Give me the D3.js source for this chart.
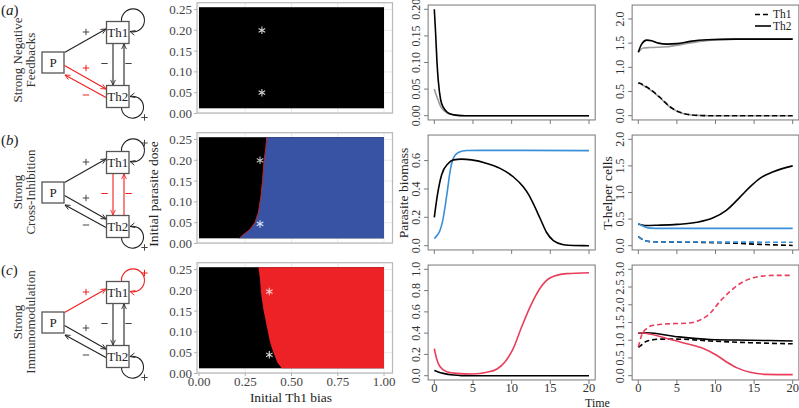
<!DOCTYPE html>
<html><head><meta charset="utf-8">
<script src="https://cdn.jsdelivr.net/npm/d3@7"></script>
<style>body{margin:0;background:#fff}text{font-family:"Liberation Serif","Times New Roman",Times,serif}</style>
</head><body><svg id="c" width="799" height="408"></svg>
<script>
// ---------------- DATA ----------------
const rowTags = ["a", "b", "c"];
const rowLabels = [["Strong Negative", "Feedbacks"], ["Strong", "Cross-Inhibition"], ["Strong", "Immunomodulation"]];
const heatXTicks = [0, 0.25, 0.5, 0.75, 1];
const heatYTicks = [0, 0.05, 0.1, 0.15, 0.2, 0.25];
const doseExtent = [0.0125, 0.2555];
const biasExtent = [0, 1];
// Th1-bias threshold [bias, dose] separating black (left) from coloured outcome (right)
const boundaryA = [];
const boundaryB = [[0.366,0.2555],[0.362,0.234],[0.351,0.195],[0.344,0.154],[0.335,0.114],[0.321,0.075],[0.303,0.051],[0.276,0.034],[0.231,0.018],[0.218,0.0125]];
const boundaryC = [[0.321,0.2555],[0.330,0.226],[0.335,0.194],[0.348,0.154],[0.366,0.114],[0.384,0.075],[0.402,0.051],[0.423,0.027],[0.447,0.0125]];
const starsA = [[0.34,0.2,"#d0d0d0"],[0.34,0.05,"#d0d0d0"]];
const starsB = [[0.33,0.2,"#bbbbbb"],[0.33,0.047,"#d8e0f4"]];
const starsC = [[0.38,0.197,"#f9c9c9"],[0.38,0.045,"#dddddd"]];

const tTicks = [0, 5, 10, 15, 20];
const paraYMax = [0.2, 0.75, 1.0];
const paraYTicks = [[0,0.05,0.1,0.15,0.2],[0,0.2,0.4,0.6],[0,0.2,0.4,0.6,0.8,1.0]];
const thYMax = [2.2, 2.0, 3.0];
const thYTicks = [[0,0.5,1,1.5,2],[0,0.5,1,1.5,2],[0,0.5,1,1.5,2,2.5,3]];

// parasite biomass [time, value]
const paraA_gray  = [[0,0.05],[0.25,0.039],[0.5,0.029],[0.8,0.018],[1.16,0.011],[1.6,0.006],[2,0.003],[3,0.0008],[4,0],[20,0]];
const paraA_black = [[0,0.2],[0.17,0.155],[0.35,0.1],[0.52,0.065],[0.82,0.03],[1.2,0.015],[1.6,0.0075],[2,0.0035],[2.7,0.001],[4,0],[20,0]];
const paraB_blue  = [[0,0.05],[0.4,0.075],[0.73,0.107],[1.1,0.18],[1.38,0.27],[1.7,0.39],[2,0.51],[2.46,0.617],[3.1,0.657],[4.2,0.671],[6,0.672],[20,0.67]];
const paraB_black = [[0,0.2],[0.4,0.356],[0.95,0.5],[1.8,0.58],[2.5,0.605],[3.5,0.61],[4.8,0.605],[6.8,0.58],[8.5,0.545],[10.2,0.486],[11.5,0.415],[12.2,0.36],[12.8,0.296],[13.7,0.19],[14.5,0.095],[15.4,0.036],[16.7,0.007],[18,0.001],[20,0]];
const paraC_red   = [[0,0.254],[0.3,0.16],[0.73,0.086],[1.6,0.038],[2.9,0.022],[5,0.016],[6.8,0.032],[8.1,0.063],[9.1,0.127],[10.2,0.254],[11.3,0.46],[12.4,0.65],[13.7,0.825],[15,0.92],[17.1,0.959],[20,0.968]];
const paraC_black = [[0,0.048],[0.5,0.035],[1.16,0.022],[2.5,0.006],[3.5,0.001],[5,0],[20,0]];

// T-helper cells [time, value]
const th2A_gray  = [[0,1.31],[0.65,1.40],[1.5,1.41],[3.7,1.425],[5.8,1.48],[8,1.536],[10.2,1.57],[13,1.584],[20,1.584]];
const th2A_black = [[0,1.31],[0.43,1.48],[1.08,1.563],[1.73,1.55],[2.6,1.50],[3.7,1.48],[5,1.49],[6.7,1.536],[8.9,1.57],[12.3,1.584],[20,1.584]];
const th1A_gray  = [[0,0.67],[0.7,0.62],[1.5,0.54],[2.8,0.37],[4.1,0.18],[5.4,0.066],[6.7,0.02],[8,0.005],[9,0],[20,0]];
const th1A_black = [[0,0.68],[0.7,0.63],[1.5,0.55],[2.8,0.38],[4.1,0.186],[5.4,0.069],[6.7,0.02],[8,0.005],[9,0],[20,0]];
const th2B_blue  = [[0,0.42],[0.65,0.367],[1.5,0.33],[3,0.325],[20,0.325]];
const th2B_black = [[0,0.41],[0.5,0.39],[1,0.38],[2.5,0.385],[5,0.40],[7.6,0.44],[9.7,0.525],[11.4,0.665],[13.2,0.918],[14.5,1.11],[15.8,1.27],[17.5,1.39],[20,1.5]];
const th1B_blue  = [[0,0.17],[0.65,0.107],[1.5,0.076],[3,0.07],[10,0.068],[20,0.065]];
const th1B_black = [[0,0.17],[0.65,0.107],[1.5,0.076],[3,0.07],[8,0.063],[12,0.05],[15.8,0.025],[20,0.005]];
const th1C_red   = [[0,0.81],[0.43,1.14],[1.08,1.33],[1.94,1.42],[3.7,1.46],[6.3,1.48],[8,1.57],[9.3,1.76],[10.6,2.10],[11.9,2.38],[13.2,2.6],[14.9,2.76],[17.5,2.83],[20,2.83]];
const th2C_red   = [[0,1.21],[1.08,1.19],[3.7,1.05],[6.3,0.9],[8.5,0.76],[10.2,0.57],[11.5,0.38],[12.8,0.22],[14.5,0.095],[16.6,0.038],[20,0.03]];
const th2C_black = [[0,1.2],[1.08,1.21],[5,1.1],[9.3,1.02],[14.5,1.0],[20,0.98]];
const th1C_black = [[0,0.8],[0.5,0.88],[1.08,0.97],[2.8,1.03],[5,1.03],[9.3,0.98],[14.5,0.93],[20,0.9]];

const legendLabels = ["Th1", "Th2"];

// ---------------- STYLE ----------------
const BLACK = "#000", GRAY = "#9a9a9a", BLUE = "#3a8fd8", PINK = "#e83e5c";
const HEAT_BLUE = "#3953a4", HEAT_RED = "#ec2227", RED = "#f21e1e";
const rowOff = [0, 130, 260];

const svg = d3.select("#c");
const defs = svg.append("defs");
[["k", "#222"], ["r", RED]].forEach(([id, col]) => {
  defs.append("marker").attr("id", "ah-" + id).attr("viewBox", "0 0 10 10")
    .attr("refX", 9.5).attr("refY", 5).attr("markerWidth", 6).attr("markerHeight", 6)
    .attr("markerUnits", "userSpaceOnUse").attr("orient", "auto")
    .append("path").attr("d", "M1,1 L9.5,5 L1,9").attr("fill", "none")
    .attr("stroke", col).attr("stroke-width", 1.4);
});

// ---------------- DIAGRAMS ----------------
const diagColors = [
  { pTh1: "k", pTh2: "r", th: "k", loop1: "k", loop2: "k", sign1: false },
  { pTh1: "k", pTh2: "k", th: "r", loop1: "k", loop2: "k", sign1: true },
  { pTh1: "r", pTh2: "k", th: "k", loop1: "r", loop2: "k", sign1: true }
];
const colOf = k => k === "r" ? RED : "#222";
const signCol = k => k === "r" ? RED : "#444";

diagColors.forEach((dc, i) => {
  const g = svg.append("g").attr("transform", `translate(0,${rowOff[i]})`);
  const tg = g.append("text").attr("x", 1).attr("y", 15).attr("font-size", 15).attr("fill", "#222");
  tg.append("tspan").text("(");
  tg.append("tspan").attr("font-style", "italic").text(rowTags[i]);
  tg.append("tspan").text(")");
  rowLabels[i].forEach((s, j) => {
    g.append("text").attr("transform", `translate(${17 + 13 * j},${i === 0 ? 60 : 62}) rotate(-90)`)
      .attr("text-anchor", "middle").attr("dy", "0.35em").attr("font-size", 13).attr("fill", "#333").text(s);
  });
  const line = (x1, y1, x2, y2, k) => g.append("line").attr("x1", x1).attr("y1", y1).attr("x2", x2).attr("y2", y2)
    .attr("stroke", colOf(k)).attr("stroke-width", 1.1).attr("marker-end", `url(#ah-${k})`);
  line(64.5, 52.5, 106, 29, dc.pTh1);
  line(64.5, 65.5, 106, 89, dc.pTh2);
  line(106, 97.5, 65, 75, dc.pTh2);
  line(113, 43.5, 113, 85, dc.th);
  line(124, 85.5, 124, 44, dc.th);
  g.append("path").attr("d", "M121.5,21.5 A11.5,11.5 0 1,1 130,31.5").attr("fill", "none")
    .attr("stroke", colOf(dc.loop1)).attr("stroke-width", 1.1).attr("marker-end", `url(#ah-${dc.loop1})`);
  g.append("path").attr("d", "M121.5,107.5 A11,11 0 1,0 130,96.5").attr("fill", "none")
    .attr("stroke", colOf(dc.loop2)).attr("stroke-width", 1.1).attr("marker-end", `url(#ah-${dc.loop2})`);
  [["P", 42, 52, 22, 21], ["Th1", 106.5, 21.5, 22.5, 22], ["Th2", 106.5, 85.5, 22.5, 22]].forEach(([lab, x, y, w, h]) => {
    g.append("rect").attr("x", x).attr("y", y).attr("width", w).attr("height", h)
      .attr("fill", "#fff").attr("stroke", "#555").attr("stroke-width", 1.3);
    g.append("text").attr("x", x + w / 2).attr("y", y + h / 2).attr("dy", "0.35em")
      .attr("text-anchor", "middle").attr("font-size", 13).attr("fill", "#222").text(lab);
  });
  const sign = (x, y, plus, k) => {
    const c = signCol(k);
    g.append("line").attr("x1", x - 3.2).attr("x2", x + 3.2).attr("y1", y).attr("y2", y).attr("stroke", c).attr("stroke-width", 1);
    if (plus) g.append("line").attr("x1", x).attr("x2", x).attr("y1", y - 3.2).attr("y2", y + 3.2).attr("stroke", c).attr("stroke-width", 1);
  };
  sign(86, 32, true, dc.pTh1);
  sign(86, 68, true, dc.pTh2);
  sign(86, 95, false, dc.pTh2);
  sign(104.5, 63.5, false, dc.th);
  sign(128.5, 63.5, false, dc.th);
  if (dc.sign1) sign(144.5, 13, true, dc.loop1);
  sign(144.5, 117.5, true, dc.loop2);
});

// ---------------- HEATMAPS ----------------
const hx = d3.scaleLinear().domain([0, 1]).range([199, 384]);
const heatBound = [boundaryA, boundaryB, boundaryC];
const heatFill = [null, HEAT_BLUE, HEAT_RED];
const heatStars = [starsA, starsB, starsC];

for (let i = 0; i < 3; i++) {
  const off = rowOff[i];
  const hy = d3.scaleLinear().domain([0, 0.25]).range([113.5 + off, 9.5 + off]);
  const g = svg.append("g");
  const bx0 = hx(0) - 2, bx1 = hx(1) + 8.5, by0 = hy(doseExtent[1]) - 4.5, by1 = hy(0) - 0.5;
  heatYTicks.forEach(v => g.append("line").attr("x1", bx0).attr("x2", bx1).attr("y1", hy(v)).attr("y2", hy(v)).attr("stroke", "#e4e4e4").attr("stroke-width", 0.8));
  heatXTicks.forEach(v => g.append("line").attr("x1", hx(v)).attr("x2", hx(v)).attr("y1", by0).attr("y2", by1).attr("stroke", "#e4e4e4").attr("stroke-width", 0.8));
  g.append("rect").attr("x", hx(biasExtent[0])).attr("y", hy(doseExtent[1]))
    .attr("width", hx(biasExtent[1]) - hx(biasExtent[0])).attr("height", hy(doseExtent[0]) - hy(doseExtent[1])).attr("fill", "#000");
  const b = heatBound[i];
  if (b.length) {
    const pts = b.map(d => [hx(d[0]), hy(d[1])]);
    const poly = [[hx(1), hy(doseExtent[1])], ...pts, [hx(1), hy(doseExtent[0])]];
    g.append("path").attr("d", "M" + poly.map(p => p.join(",")).join("L") + "Z").attr("fill", heatFill[i]);
    if (i === 1) g.append("path").attr("d", d3.line()(pts)).attr("fill", "none").attr("stroke", "#c0262b").attr("stroke-width", 1);
  }
  heatStars[i].forEach(([x, y, c]) => {
    g.append("path").attr("d", d3.symbol(d3.symbolAsterisk, 40)()).attr("transform", `translate(${hx(x)},${hy(y)})`)
      .attr("fill", "none").attr("stroke", c).attr("stroke-width", 1.1);
  });
  g.append("rect").attr("x", bx0).attr("y", by0).attr("width", bx1 - bx0).attr("height", by1 - by0)
    .attr("fill", "none").attr("stroke", "#b8b8b8").attr("stroke-width", 1.2);
  heatYTicks.forEach(v => {
    g.append("line").attr("x1", bx0 - 3).attr("x2", bx0).attr("y1", hy(v)).attr("y2", hy(v)).attr("stroke", "#b3b3b3");
    g.append("text").attr("x", bx0 - 5).attr("y", hy(v)).attr("dy", "0.35em").attr("text-anchor", "end")
      .attr("font-size", 13).attr("fill", "#444").text(v.toFixed(2));
  });
  if (i === 2) {
    heatXTicks.forEach(v => {
      g.append("line").attr("x1", hx(v)).attr("x2", hx(v)).attr("y1", by1).attr("y2", by1 + 3).attr("stroke", "#b3b3b3");
      g.append("text").attr("x", hx(v)).attr("y", by1 + 12.5).attr("text-anchor", "middle")
        .attr("font-size", 13).attr("fill", "#444").text(v.toFixed(2));
    });
    g.append("text").attr("x", 291).attr("y", 402).attr("text-anchor", "middle").attr("font-size", 13.5).attr("fill", "#222").text("Initial Th1 bias");
  }
  if (i === 1) {
    g.append("text").attr("transform", "translate(153,194) rotate(-90)").attr("dy", "0.35em").attr("text-anchor", "middle")
      .attr("font-size", 13.5).attr("fill", "#222").text("Initial parasite dose");
  }
}

// ---------------- LINE PLOTS ----------------
const col3X = d3.scaleLinear().domain([0, 20]).range([434.3, 589]);
const col4X = d3.scaleLinear().domain([0, 20]).range([638.3, 792.7]);

function plot(xs, i, ymax, yticks, fmt, series) {
  const off = rowOff[i];
  const ys = d3.scaleLinear().domain([0, ymax]).range([115.7 + off, 9.3 + off]);
  const g = svg.append("g");
  const bx0 = xs(-0.8), bx1 = xs(20.8), by0 = ys(ymax * 1.04), by1 = ys(-ymax * 0.04);
  const ln = d3.line().x(d => xs(d[0])).y(d => ys(d[1])).curve(d3.curveMonotoneX);
  series.forEach(s => g.append("path").attr("d", ln(s.d)).attr("fill", "none").attr("stroke", s.c)
    .attr("stroke-width", 1.6).attr("stroke-dasharray", s.dash ? "5,3" : null).attr("stroke-dashoffset", s.off || 0));
  g.append("rect").attr("x", bx0).attr("y", by0).attr("width", bx1 - bx0).attr("height", by1 - by0)
    .attr("fill", "none").attr("stroke", "#777").attr("stroke-width", 1);
  yticks.forEach(v => {
    g.append("line").attr("x1", bx0 - 4).attr("x2", bx0).attr("y1", ys(v)).attr("y2", ys(v)).attr("stroke", "#777");
    g.append("text").attr("transform", `translate(${bx0 - 12},${ys(v)}) rotate(-90)`).attr("dy", "0.35em")
      .attr("text-anchor", "middle").attr("font-size", 12).attr("fill", "#333").text(fmt(v));
  });
  tTicks.forEach(t => {
    g.append("line").attr("x1", xs(t)).attr("x2", xs(t)).attr("y1", by1).attr("y2", by1 + 4).attr("stroke", "#777");
    if (i === 2) g.append("text").attr("x", xs(t)).attr("y", by1 + 12.5).attr("text-anchor", "middle")
      .attr("font-size", 12.5).attr("fill", "#333").text(t);
  });
}
const f2 = d3.format(".2f"), f1 = d3.format(".1f");
plot(col3X, 0, paraYMax[0], paraYTicks[0], f2, [{ d: paraA_gray, c: GRAY }, { d: paraA_black, c: BLACK }]);
plot(col3X, 1, paraYMax[1], paraYTicks[1], f1, [{ d: paraB_blue, c: BLUE }, { d: paraB_black, c: BLACK }]);
plot(col3X, 2, paraYMax[2], paraYTicks[2], f1, [{ d: paraC_black, c: BLACK }, { d: paraC_red, c: PINK }]);

plot(col4X, 0, thYMax[0], thYTicks[0], f1, [
  { d: th2A_gray, c: GRAY }, { d: th2A_black, c: BLACK },
  { d: th1A_gray, c: GRAY, dash: true, off: 4 }, { d: th1A_black, c: BLACK, dash: true }]);
plot(col4X, 1, thYMax[1], thYTicks[1], f1, [
  { d: th2B_black, c: BLACK }, { d: th2B_blue, c: BLUE },
  { d: th1B_black, c: BLACK, dash: true }, { d: th1B_blue, c: BLUE, dash: true }]);
plot(col4X, 2, thYMax[2], thYTicks[2], f1, [
  { d: th2C_black, c: BLACK }, { d: th1C_black, c: BLACK, dash: true },
  { d: th2C_red, c: PINK }, { d: th1C_red, c: PINK, dash: true }]);

// legend
legendLabels.forEach((lab, j) => {
  const y = 14.5 + 11.5 * j;
  svg.append("line").attr("x1", 755).attr("x2", 771).attr("y1", y).attr("y2", y).attr("stroke", "#000")
    .attr("stroke-width", 1.6).attr("stroke-dasharray", j === 0 ? "5,3" : null);
  svg.append("text").attr("x", 773).attr("y", y).attr("dy", "0.33em").attr("font-size", 11.5).attr("fill", "#222").text(lab);
});

svg.append("text").attr("transform", "translate(403,193) rotate(-90)").attr("dy", "0.35em").attr("text-anchor", "middle")
  .attr("font-size", 13.5).attr("fill", "#222").text("Parasite biomass");
svg.append("text").attr("transform", "translate(607,193) rotate(-90)").attr("dy", "0.35em").attr("text-anchor", "middle")
  .attr("font-size", 13.5).attr("fill", "#222").text("T-helper cells");
svg.append("text").attr("x", 585).attr("y", 406.5).attr("font-size", 12).attr("fill", "#222").text("Time");
</script></body></html>
